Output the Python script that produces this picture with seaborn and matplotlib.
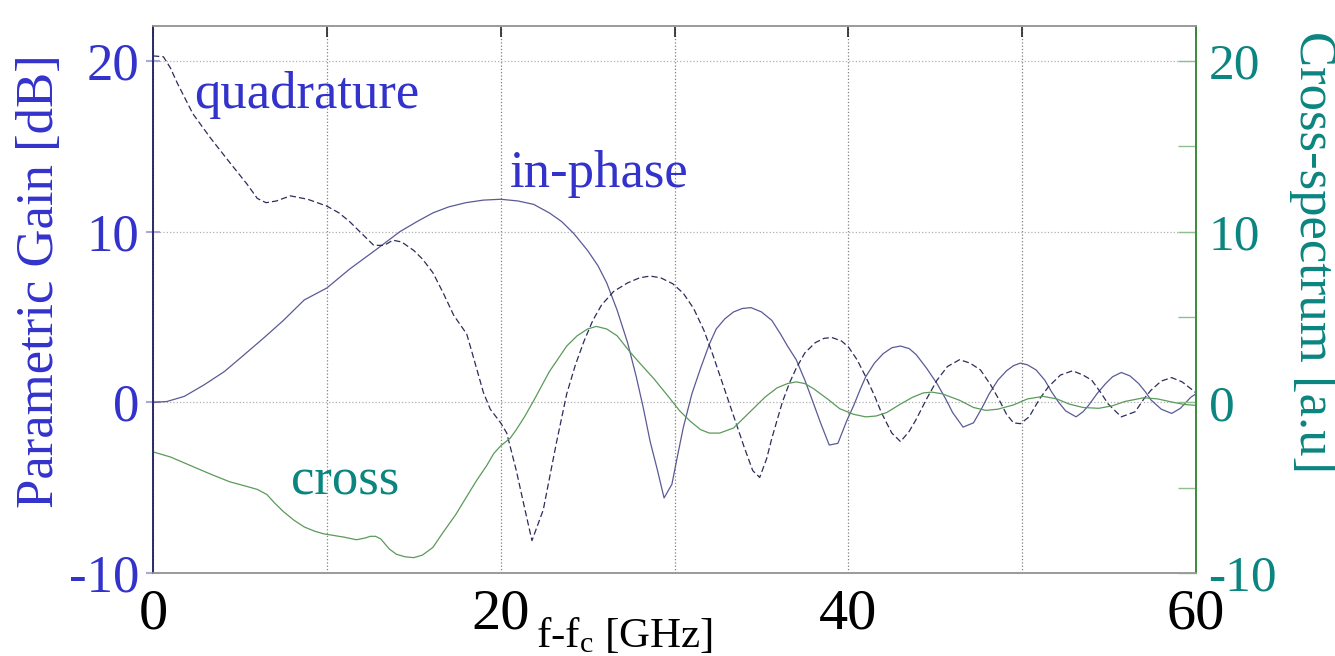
import matplotlib
matplotlib.use('Agg')
import matplotlib.pyplot as plt
import seaborn as sns

# values (x in GHz, gains in dB, cross in a.u.)
inphase_x = [0, 0.8, 1.8, 2.9, 4.1, 5.2, 6.4, 7.5, 8.7, 10.0,
             11.3, 12.9, 14.2, 15.2, 16.1, 17.0, 18.0, 19.0, 20.0, 21.0,
             21.9, 22.8, 23.5, 24.2, 25.0, 25.6, 26.1, 26.7, 27.3, 27.8,
             28.2, 28.6, 29.0, 29.4, 29.85, 30.2, 30.5, 31.0, 31.5, 32.0,
             32.4, 32.9, 33.4, 33.9, 34.4, 35.0, 35.6, 36.1, 36.5, 37.0,
             37.5, 37.9, 38.4, 38.9, 39.4, 39.9, 40.3, 40.7, 41.0, 41.5,
             42.0, 42.5, 43.0, 43.5, 43.9, 44.5, 45.1, 45.6, 46.0, 46.6,
             47.2, 47.7, 48.1, 48.6, 49.1, 49.5, 49.9, 50.3, 50.8, 51.3,
             51.7, 52.1, 52.5, 53.1, 53.5, 53.8, 54.3, 54.8, 55.2, 55.7,
             56.2, 56.7, 57.1, 57.4, 58.0, 58.6, 59.1, 59.7, 60.0]
inphase_y = [0.0, 0.05, 0.35, 1.0, 1.8, 2.75, 3.8, 4.8, 6.0, 6.7,
             7.8, 9.0, 10.0, 10.6, 11.1, 11.45, 11.7, 11.85, 11.9, 11.8,
             11.6, 11.1, 10.6, 9.9, 8.9, 8.0, 7.0, 5.4, 3.5, 1.5,
             -0.3, -2.3, -3.9, -5.6, -4.8, -3.0, -1.5, 0.5, 2.0, 3.4,
             4.3, 4.9, 5.3, 5.5, 5.55, 5.3, 4.8, 4.0, 3.3, 2.5,
             1.3, 0.2, -1.2, -2.5, -2.4, -1.1, -0.2, 0.8, 1.5, 2.3,
             2.85, 3.2, 3.3, 3.15, 2.8, 2.0, 1.1, 0.2, -0.6, -1.45,
             -1.2, -0.3, 0.5, 1.3, 1.85, 2.15, 2.3, 2.2, 1.9, 1.3,
             0.6, 0.0, -0.5, -0.85, -0.55, -0.2, 0.5, 1.1, 1.5, 1.75,
             1.55, 1.1, 0.6, 0.15, -0.4, -0.65, -0.35, 0.3, 0.5]

quad_x = [0, 0.6, 1.0, 1.4, 1.8, 2.3, 3.3, 4.3, 5.4, 6.0,
          6.5, 7.1, 7.9, 8.9, 10.0, 10.7, 11.3, 12.1, 12.7, 13.3,
          13.8, 14.3, 15.0, 15.5, 16.1, 16.7, 17.3, 18.05, 18.5, 19.0,
          19.4, 20.0, 20.35, 20.9, 21.4, 21.8, 22.45, 23.2, 23.8, 24.3,
          24.8, 25.3, 25.8, 26.5, 27.3, 28.0, 28.6, 29.2, 29.9, 30.5,
          31.1, 31.7, 32.2, 32.8, 33.4, 34.0, 34.5, 34.9, 35.3, 35.6,
          36.2, 36.6, 37.0, 37.5, 38.1, 38.6, 39.05, 39.6, 40.0, 40.5,
          41.0, 41.5, 41.9, 42.5, 43.0, 43.5, 43.9, 44.5, 45.1, 45.7,
          46.4, 47.0, 47.6, 48.2, 48.7, 49.1, 49.5, 49.9, 50.4, 51.0,
          51.5, 52.2, 52.9, 53.5, 54.0, 54.5, 54.95, 55.7, 56.5, 57.0,
          57.4, 58.0, 58.6, 59.2, 59.7, 60.0]
quad_y = [20.3, 20.25, 19.6, 18.7, 17.9, 16.9, 15.5, 14.2, 12.8, 11.95,
          11.7, 11.8, 12.1, 11.9, 11.5, 11.1, 10.6, 9.8, 9.2, 9.2,
          9.5, 9.4, 8.9, 8.4, 7.6, 6.4, 5.1, 4.0, 2.4, 0.6,
          -0.4, -1.2, -1.8, -4.0, -6.3, -8.1, -6.3, -2.4, 0.5, 2.2,
          3.6, 4.8, 5.7, 6.5, 7.0, 7.3, 7.4, 7.3, 6.95, 6.4,
          5.5, 4.2, 2.8, 1.0, -0.8, -2.6, -4.0, -4.4, -3.3, -2.1,
          0.0, 1.1, 2.0, 2.9, 3.5, 3.75, 3.8, 3.6, 3.25, 2.5,
          1.5, 0.4, -0.6, -1.8, -2.3, -1.7, -1.0, 0.2, 1.3, 2.1,
          2.5, 2.3, 1.9, 1.0, 0.1, -0.7, -1.2, -1.25, -0.85, 0.2,
          0.9, 1.6, 1.85, 1.6, 1.3, 0.6, -0.1, -0.85, -0.55, 0.2,
          0.7, 1.25, 1.45, 1.2, 0.8, 0.55]

cross_x = [0, 1.0, 2.15, 3.3, 4.4, 5.3, 6.0, 6.55, 7.0, 7.5,
           8.1, 8.7, 9.3, 9.8, 11.0, 11.7, 12.2, 12.5, 12.8, 13.1,
           13.6, 14.0, 14.5, 15.0, 15.5, 16.1, 16.7, 17.4, 18.0, 18.6,
           19.2, 19.6, 20.0, 20.55, 20.9, 21.4, 21.9, 22.8, 23.8, 24.4,
           25.0, 25.5, 26.1, 26.7, 27.4, 28.0, 28.8, 29.6, 30.3, 30.9,
           31.5, 32.0, 32.6, 33.4, 34.4, 35.2, 35.9, 36.5, 37.0, 37.5,
           38.0, 38.8, 39.5, 40.3, 41.0, 41.6, 42.2, 43.0, 43.7, 44.3,
           44.8, 45.4, 46.4, 47.2, 47.9, 48.6, 49.5, 50.3, 51.2, 52.0,
           52.7, 53.5, 54.4, 55.2, 55.9, 57.0, 57.8, 58.6, 59.3, 60.0]
cross_y = [-2.9, -3.2, -3.7, -4.2, -4.65, -4.9, -5.1, -5.4, -5.9, -6.4,
           -6.9, -7.3, -7.55, -7.7, -7.9, -8.05, -7.95, -7.85, -7.85, -8.0,
           -8.6, -8.9, -9.05, -9.1, -8.95, -8.5, -7.6, -6.6, -5.6, -4.6,
           -3.7, -3.0, -2.55, -2.1, -1.6, -0.8, 0.1, 1.8, 3.3, 3.9,
           4.3, 4.45, 4.3, 3.9, 3.0, 2.3, 1.4, 0.4, -0.5, -1.1,
           -1.6, -1.8, -1.8, -1.5, -0.5, 0.3, 0.85, 1.1, 1.2, 1.1,
           0.8, 0.2, -0.37, -0.7, -0.85, -0.8, -0.6, -0.1, 0.3, 0.55,
           0.6, 0.5, 0.12, -0.3, -0.47, -0.4, -0.15, 0.2, 0.35, 0.2,
           -0.1, -0.3, -0.35, -0.2, 0.05, 0.27, 0.2, 0.02, -0.12, -0.18]

x_ticks = [0, 10, 20, 30, 40, 50, 60]
x_labels = ['0', '', '20', '', '40', '', '60']
gain_ticks = [-10, 0, 10, 20]
cross_ticks = [-10, 0, 10, 20]
cross_minor = [-5, 5, 15]

blue = '#3333cc'
teal = '#0b8580'

sns.set_style('white')
plt.rcParams['font.family'] = ['Liberation Serif', 'DejaVu Serif']
plt.rcParams['axes.unicode_minus'] = False
plt.rcParams['mathtext.fontset'] = 'custom'
plt.rcParams['mathtext.rm'] = 'Liberation Serif'
plt.rcParams['mathtext.it'] = 'Liberation Serif:italic'

fig = plt.figure(figsize=(13.35, 6.56), dpi=100)
ax = fig.add_axes([0.1146, 0.1265, 0.7813, 0.8338])
ax2 = ax.twinx()

sns.lineplot(x=inphase_x, y=inphase_y, ax=ax, color='#5a5a96', linewidth=0.9,
             sort=False, estimator=None)
sns.lineplot(x=quad_x, y=quad_y, ax=ax, color='#2c2c5c', linewidth=0.9,
             linestyle=(0, (5, 2.5)), sort=False, estimator=None)
sns.lineplot(x=cross_x, y=cross_y, ax=ax2, color='#5a9a5a', linewidth=0.9,
             sort=False, estimator=None)

ax.set_xlim(0, 60)
ax.set_ylim(-10, 22.05)
ax2.set_ylim(-10, 22.05)

# vertical grid is darker than the horizontal one in the original
ax.grid(True, axis='x', linestyle=':', color='#808080', linewidth=0.9)
ax.grid(True, axis='y', linestyle=':', color='#b0b0b0', linewidth=0.9)

ax.set_xticks(x_ticks)
ax.set_xticklabels(x_labels)
ax.tick_params(axis='x', direction='in', length=8, width=1.2, color='#222222',
               top=True, labelsize=42, pad=11, labelcolor='black')
ax.set_yticks(gain_ticks)
ax.tick_params(axis='y', direction='inout', length=10, width=1.5, color='#a8a8d8',
               labelsize=38, labelcolor=blue, pad=5)
ax2.set_yticks(cross_ticks)
ax2.set_yticks(cross_minor, minor=True)
ax2.tick_params(axis='y', which='both', direction='in', length=13, width=1,
                color='#8fbf8f', labelsize=37, labelcolor=teal, pad=9)

for a in (ax, ax2):
    a.spines['left'].set_color('#2a2a6a')
    a.spines['right'].set_color('#3a8a3a')
    a.spines['top'].set_color('#9a9a9a')
    a.spines['bottom'].set_color('#9a9a9a')
    for s in a.spines.values():
        s.set_linewidth(1.2)

ax.set_xlabel(r'f-f$_\mathrm{c}$ [GHz]', fontsize=31, color='black')
ax.xaxis.set_label_coords(0.452, -0.078)
ax.set_ylabel('Parametric Gain [dB]', fontsize=38, color=blue, va='center')
ax.yaxis.set_label_coords(-0.108, 0.534)
ax2.set_ylabel('Cross-spectrum [a.u]', fontsize=38, color=teal, rotation=270,
               va='center', ha='center')
ax2.yaxis.set_label_coords(1.112, 0.587)

ax.text(8.86, 18.0, 'quadrature', color=blue, fontsize=38, ha='center', va='center')
ax.text(25.66, 13.37, 'in-phase', color=blue, fontsize=38, ha='center', va='center')
ax2.text(11.05, -4.66, 'cross', color=teal, fontsize=38, ha='center', va='center')

fig.savefig('out.png', dpi=100)
